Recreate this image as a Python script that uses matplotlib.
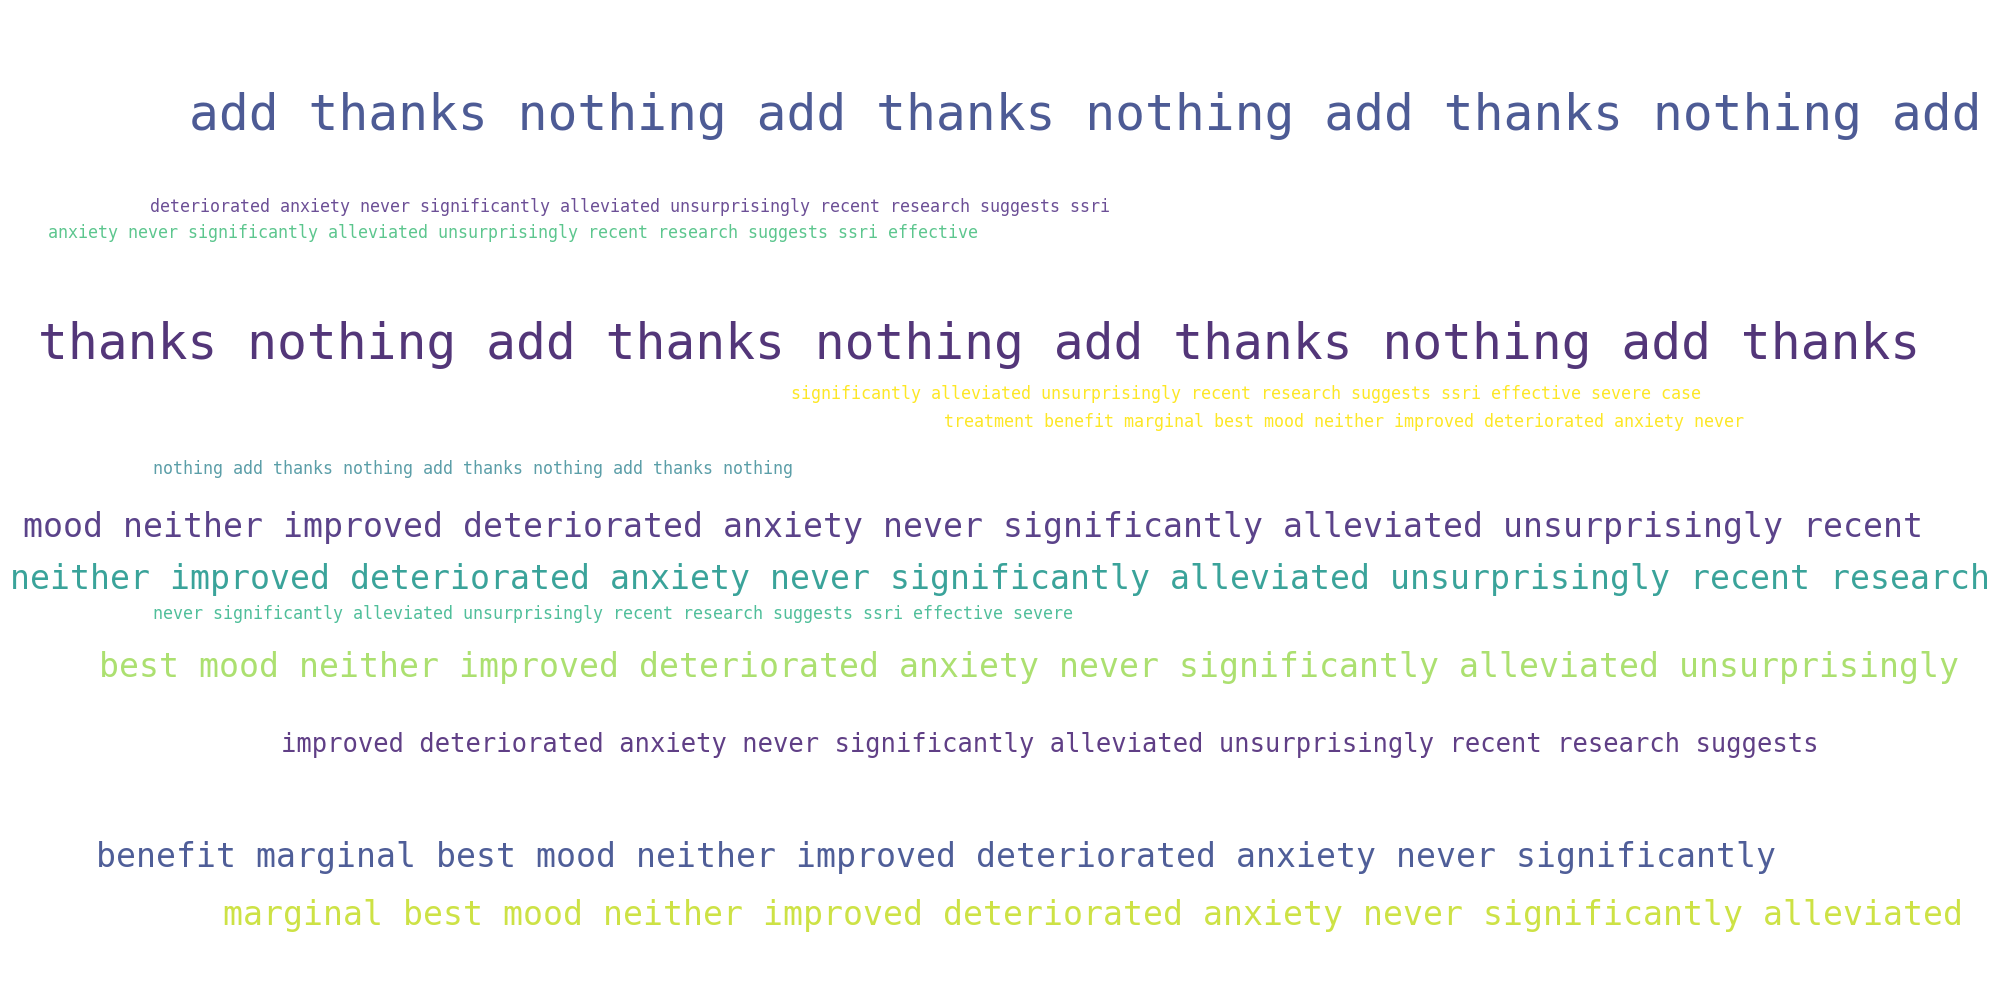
import matplotlib
matplotlib.use("Agg")
import matplotlib.pyplot as plt

# ---- data: phrases of the word cloud ----
phrases = [
    "add thanks nothing add thanks nothing add thanks nothing add",
    "deteriorated anxiety never significantly alleviated unsurprisingly recent research suggests ssri",
    "anxiety never significantly alleviated unsurprisingly recent research suggests ssri effective",
    "thanks nothing add thanks nothing add thanks nothing add thanks",
    "significantly alleviated unsurprisingly recent research suggests ssri effective severe case",
    "treatment benefit marginal best mood neither improved deteriorated anxiety never",
    "nothing add thanks nothing add thanks nothing add thanks nothing",
    "mood neither improved deteriorated anxiety never significantly alleviated unsurprisingly recent",
    "neither improved deteriorated anxiety never significantly alleviated unsurprisingly recent research",
    "never significantly alleviated unsurprisingly recent research suggests ssri effective severe",
    "best mood neither improved deteriorated anxiety never significantly alleviated unsurprisingly",
    "improved deteriorated anxiety never significantly alleviated unsurprisingly recent research suggests",
    "benefit marginal best mood neither improved deteriorated anxiety never significantly",
    "marginal best mood neither improved deteriorated anxiety never significantly alleviated",
]

# ---- layout (pixel coordinates on a 2000x1000 canvas) ----
x_left = [189, 150, 48, 38, 791, 944, 153, 23, 10, 153, 99, 281, 96, 223]
y_mid = [116, 207, 233, 345, 394, 422, 469, 527, 579, 614, 667, 745, 857, 916]
sizes = [35.75, 12, 12, 35.7, 12, 12, 12, 23.9, 23.9, 12, 23.9, 18.4, 23.9, 23.9]
colors = ["#4d5b95", "#6c4f96", "#5cc68e", "#533679", "#fde725", "#fde725",
          "#5b9ea8", "#5b438a", "#3aa39a", "#4fbf9a", "#ace070", "#603f86",
          "#4f5e98", "#cde245"]

fig = plt.figure(figsize=(20, 10), dpi=100)
ax = fig.add_axes([0, 0, 1, 1])
ax.set_xlim(0, 2000)
ax.set_ylim(1000, 0)
ax.axis("off")

for txt, x, y, s, c in zip(phrases, x_left, y_mid, sizes, colors):
    ax.text(x, y, txt, fontsize=s, color=c, family="DejaVu Sans Mono",
            ha="left", va="center")

fig.savefig("out.png", dpi=100, facecolor="white")
